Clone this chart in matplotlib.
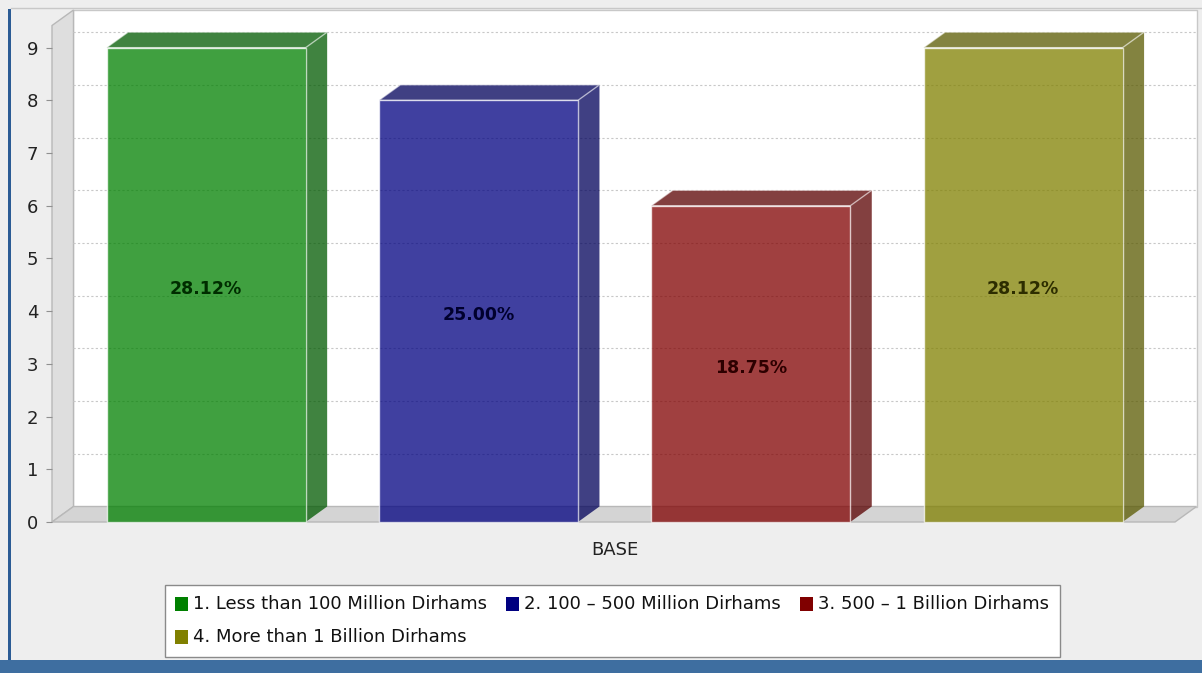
import matplotlib
matplotlib.use("Agg")
import matplotlib.pyplot as plt
import matplotlib.transforms as mtransforms
from matplotlib.patches import Polygon, Rectangle
from matplotlib.lines import Line2D
from matplotlib.colors import to_rgb

# ---- data -------------------------------------------------------------
categories = ["BASE"]
series_names = [
    "1. Less than 100 Million Dirhams",
    "2. 100 \u2013 500 Million Dirhams",
    "3. 500 \u2013 1 Billion Dirhams",
    "4. More than 1 Billion Dirhams",
]
series_values = [9, 8, 6, 9]
series_colors = ["#008000", "#000080", "#800000", "#808000"]
y_ticks = list(range(10))

plt.rcParams["font.family"] = ["Liberation Sans Narrow", "DejaVu Sans"]

total = sum(series_values)
value_labels = ["%.2f%%" % (int(v / total * 10000) / 100) for v in series_values]

# ---- figure & front plane of the 3D plot -----------------------------------
W, H = 1202, 673
fig = plt.figure(figsize=(W / 100, H / 100), dpi=100, facecolor="#EEEEEE")

left_px, right_px = 52, 1175
base_px, top_px = 522, 25.5
depth_px_x, depth_px_y = 21.5, 15.5

ax = fig.add_axes([left_px / W, 1 - base_px / H,
                   (right_px - left_px) / W, (base_px - top_px) / H])
ax.set_facecolor("none")
ymax = 9.42
x0, x1 = -0.566, 3.558
ax.set_xlim(x0, x1)
ax.set_ylim(0, ymax)
for s in ax.spines.values():
    s.set_visible(False)

# depth offset of the 3D effect expressed in data units
dx = depth_px_x * (x1 - x0) / (right_px - left_px)
dy = depth_px_y * ymax / (base_px - top_px)

def poly(pts, **kw):
    p = Polygon(pts, closed=True, clip_on=False, **kw)
    ax.add_patch(p)
    return p

# back wall, left wall and floor
poly([(x0 + dx, dy), (x1 + dx, dy), (x1 + dx, ymax + dy), (x0 + dx, ymax + dy)],
     facecolor="white", edgecolor="#C8C8C8", linewidth=1, zorder=0)
poly([(x0, 0), (x0, ymax), (x0 + dx, ymax + dy), (x0 + dx, dy)],
     facecolor="#DEDEDE", edgecolor="#B8B8B8", linewidth=1, zorder=0.5)
poly([(x0, 0), (x1, 0), (x1 + dx, dy), (x0 + dx, dy)],
     facecolor="#D4D4D4", edgecolor="#B8B8B8", linewidth=1, zorder=0.5)

# grid lines on the back wall
for t in y_ticks[1:]:
    ax.add_line(Line2D([x0 + dx, x1 + dx], [t + dy, t + dy], color="#C8C8C8",
                       linewidth=0.8, linestyle=(0, (2, 2)), zorder=0.6,
                       clip_on=False))

# ---- bars ------------------------------------------------------------------
bar_w = 0.731
alpha = 0.75
xs = list(range(len(series_values)))
for x, v, c in zip(xs, series_values, series_colors):
    r, g, b = to_rgb(c)
    dark = (r * 0.7, g * 0.7, b * 0.7, alpha)
    xl, xr = x - bar_w / 2, x + bar_w / 2
    # right side face
    poly([(xr, 0), (xr, v), (xr + dx, v + dy), (xr + dx, dy)],
         facecolor=dark, edgecolor="none", zorder=2)
    # top face
    poly([(xl, v), (xr, v), (xr + dx, v + dy), (xl + dx, v + dy)],
         facecolor=dark, edgecolor=(1, 1, 1, 0.55), linewidth=1, zorder=2)

ax.bar(xs, series_values, width=bar_w,
       color=[(*to_rgb(c), alpha) for c in series_colors],
       edgecolor=(1, 1, 1, 0.7), linewidth=1, zorder=3, clip_on=False)

# value labels, nudged slightly down in screen space
label_shift = mtransforms.ScaledTranslation(0, -4 / 100, fig.dpi_scale_trans)
for x, v, c, lab in zip(xs, series_values, series_colors, value_labels):
    r, g, b = to_rgb(c)
    ax.text(x, v / 2, lab, ha="center", va="center", fontsize=12.5,
            fontweight="bold", color=(r * 0.35, g * 0.35, b * 0.35), zorder=4,
            transform=ax.transData + label_shift)

# ---- axes ticks ------------------------------------------------------------
ax.set_yticks(y_ticks)
ax.set_yticklabels([str(t) for t in y_ticks], fontsize=13)
ax.tick_params(axis="y", length=4, color="#909090", pad=6, labelcolor="#222222")
ax.set_xticks([(xs[0] + xs[-1]) / 2])
ax.set_xticklabels(categories, fontsize=13, color="#222222")
ax.tick_params(axis="x", length=0, pad=14)

# ---- legend ----------------------------------------------------------------
def fx(px):
    return px / W

def fy(py):
    return 1 - py / H

fig.patches.append(Rectangle((fx(165), fy(657)), fx(1060) - fx(165), fy(585) - fy(657),
                             transform=fig.transFigure, facecolor="white",
                             edgecolor="#8A8A8A", linewidth=1))
legend_pos = [(175, 604), (506, 604), (800, 604), (175, 637)]
for (px, py), name, c in zip(legend_pos, series_names, series_colors):
    fig.patches.append(Rectangle((fx(px), fy(py + 7)), fx(13), 14 / H,
                                 transform=fig.transFigure, facecolor=c,
                                 edgecolor="none"))
    fig.text(fx(px + 18), fy(py), name, ha="left", va="center",
             fontsize=13, color="#111111")

# ---- frame decoration ------------------------------------------------------
fig.patches.append(Rectangle((0, 0), 1, 13 / H, transform=fig.transFigure,
                             facecolor="#3E6EA0", edgecolor="none"))
fig.patches.append(Rectangle((fx(8), fy(660)), fx(3), (660 - 9) / H,
                             transform=fig.transFigure, facecolor="#2B5B94",
                             edgecolor="none"))
fig.lines.append(Line2D([fx(11), 1], [fy(8), fy(8)], transform=fig.transFigure,
                        color="#C8C8C8", linewidth=1))

fig.savefig("out.png", dpi=100, facecolor=fig.get_facecolor())
